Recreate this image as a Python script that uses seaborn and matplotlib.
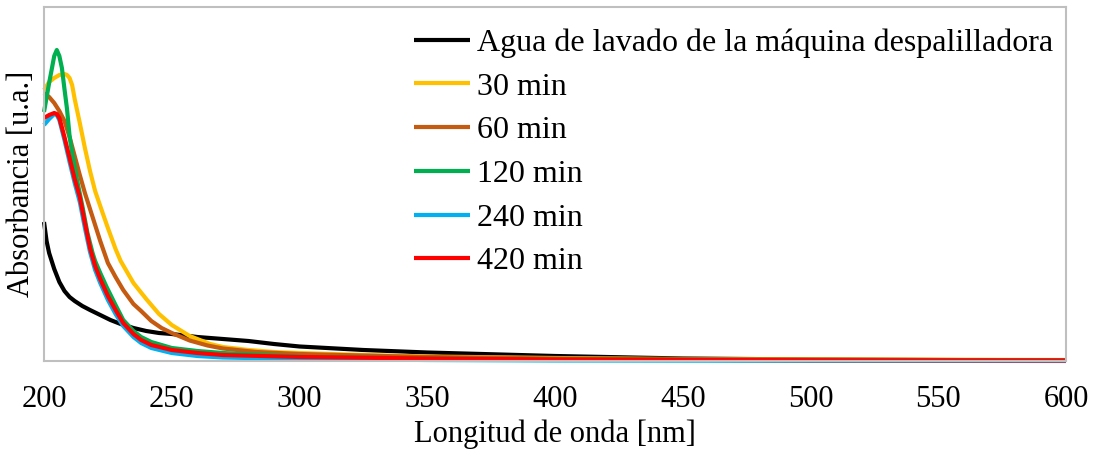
import numpy as np
import pandas as pd
import matplotlib
matplotlib.use("Agg")
import matplotlib.pyplot as plt
import seaborn as sns

# UV-Vis spectra: wavelength [nm] and absorbance [a.u.] for each sample
wl_agua = [200, 201, 202, 204, 206, 208, 210, 212, 215, 218, 222, 226, 230, 235, 240,
           245, 250, 260, 270, 280, 290, 300, 325, 350, 400, 450, 500, 600]
abs_agua = [1.39, 1.20, 1.08, 0.92, 0.79, 0.70, 0.64, 0.60, 0.55, 0.51, 0.46, 0.41, 0.37,
            0.33, 0.30, 0.28, 0.27, 0.24, 0.22, 0.20, 0.17, 0.145, 0.11, 0.085, 0.05,
            0.025, 0.015, 0.005]

wl_30 = [200, 202, 204, 206, 208, 209, 210, 211, 212, 214, 216, 218, 220, 222, 225, 228,
         230, 235, 240, 245, 250, 257, 265, 270, 280, 290, 300, 325, 350, 400, 450, 500, 600]
abs_30 = [2.71, 2.79, 2.83, 2.86, 2.87, 2.86, 2.83, 2.76, 2.62, 2.38, 2.13, 1.90, 1.70,
          1.55, 1.33, 1.12, 1.00, 0.78, 0.62, 0.47, 0.36, 0.25, 0.17, 0.14, 0.11, 0.09,
          0.08, 0.06, 0.045, 0.03, 0.02, 0.015, 0.01]

wl_60 = [200, 202, 204, 206, 208, 210, 212, 214, 216, 218, 220, 222, 225, 228, 231, 235,
         238, 242, 246, 250, 257, 264, 270, 283, 300, 316, 350, 400, 450, 500, 600]
abs_60 = [2.68, 2.64, 2.58, 2.50, 2.40, 2.24, 2.05, 1.86, 1.68, 1.52, 1.36, 1.20, 0.98,
          0.84, 0.71, 0.57, 0.50, 0.40, 0.33, 0.28, 0.205, 0.155, 0.125, 0.09, 0.07, 0.06,
          0.04, 0.025, 0.018, 0.012, 0.008]

wl_120 = [200, 202, 204, 205, 206, 207, 208, 209, 210, 211, 213, 215, 217, 219, 220, 222,
          224.5, 228, 231, 235, 238, 242, 250, 260, 270, 303, 350, 400, 500, 600]
abs_120 = [2.49, 2.78, 3.05, 3.11, 3.05, 2.93, 2.72, 2.52, 2.25, 2.08, 1.80, 1.55, 1.28,
           1.08, 1.00, 0.88, 0.74, 0.56, 0.41, 0.30, 0.24, 0.19, 0.13, 0.10, 0.08, 0.04,
           0.025, 0.015, 0.008, 0.005]

wl_240 = [200, 202, 204, 205, 206, 208, 210, 212, 214, 216, 218, 220, 222, 225, 228, 231,
          235, 238, 242, 250, 260, 270, 300, 350, 400, 500, 600]
abs_240 = [2.36, 2.42, 2.47, 2.46, 2.41, 2.21, 1.99, 1.78, 1.59, 1.33, 1.09, 0.91, 0.78,
           0.61, 0.47, 0.35, 0.24, 0.18, 0.13, 0.08, 0.05, 0.035, 0.02, 0.01, 0.005,
           0.002, 0.0]

wl_420 = [200, 202, 204, 205, 206, 208, 210, 212, 214, 216, 218, 220, 222, 225, 228, 231,
          235, 238, 242, 250, 260, 270, 300, 350, 400, 500, 600]
abs_420 = [2.43, 2.46, 2.48, 2.47, 2.43, 2.24, 2.03, 1.82, 1.64, 1.38, 1.13, 0.95, 0.82,
           0.65, 0.51, 0.38, 0.27, 0.21, 0.16, 0.11, 0.08, 0.06, 0.04, 0.025, 0.015,
           0.008, 0.005]

series_names = ["Agua de lavado de la máquina despalilladora", "30 min", "60 min",
                "120 min", "240 min", "420 min"]
series_colors = ["#000000", "#FFC000", "#C55A11", "#00B050", "#00B0F0", "#FF0000"]
series_x = [wl_agua, wl_30, wl_60, wl_120, wl_240, wl_420]
series_y = [abs_agua, abs_30, abs_60, abs_120, abs_240, abs_420]

x_ticks = [200, 250, 300, 350, 400, 450, 500, 550, 600]

frames = []
for name, xs, ys in zip(series_names, series_x, series_y):
    frames.append(pd.DataFrame({"wl": xs, "abs": ys, "muestra": name}))
df = pd.concat(frames, ignore_index=True)

sns.set_theme(style="white")
plt.rcParams["font.family"] = ["Liberation Serif", "DejaVu Serif"]
plt.rcParams["text.color"] = "black"
plt.rcParams["axes.labelcolor"] = "black"
plt.rcParams["xtick.color"] = "black"
plt.rcParams["ytick.color"] = "black"

fig = plt.figure(figsize=(10.95, 4.58), dpi=100)
ax = fig.add_axes([0.0402, 0.2118, 0.9333, 0.7729])

sns.lineplot(data=df, x="wl", y="abs", hue="muestra", hue_order=series_names,
             palette=dict(zip(series_names, series_colors)), estimator=None,
             sort=False, linewidth=3, ax=ax, legend=True)
for line in ax.get_lines():
    line.set_clip_on(False)
    line.set_solid_joinstyle("round")
    line.set_solid_capstyle("butt")

ax.set_xlim(200, 600)
ax.set_ylim(0, 3.54)
ax.set_xticks(x_ticks)
ax.set_xticklabels([str(t) for t in x_ticks], fontsize=22)
ax.set_yticks([])
ax.tick_params(axis="x", length=0, pad=17)
ax.set_xlabel("Longitud de onda [nm]", fontsize=22, labelpad=4)
ax.set_ylabel("Absorbancia [u.a.]", fontsize=22, labelpad=6)

for sp in ax.spines.values():
    sp.set_color("#BFBFBF")
    sp.set_linewidth(1.5)

handles, labels = ax.get_legend_handles_labels()
leg = ax.legend(handles, labels, loc="upper right", frameon=False, fontsize=23,
                handlelength=1.75, handletextpad=0.2, labelspacing=0.45,
                borderaxespad=0.0, bbox_to_anchor=(0.9995, 0.976))
for h in leg.get_lines():
    h.set_linewidth(3)

fig.savefig("out.png", dpi=100)
